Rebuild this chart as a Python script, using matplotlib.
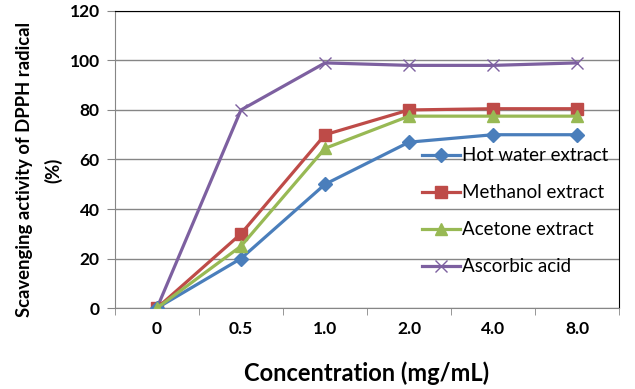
import numpy as np
import matplotlib.pyplot as plt

concentrations = ["0", "0.5", "1.0", "2.0", "4.0", "8.0"]
hot_water = [0, 20, 50, 67, 70, 70]
methanol = [0, 30, 70, 80, 80.5, 80.5]
acetone = [0, 25, 64.5, 77.5, 77.5, 77.5]
ascorbic = [0, 80, 99, 98, 98, 99]

series_names = ["Hot water extract", "Methanol extract", "Acetone extract", "Ascorbic acid"]

plt.rcParams['font.family'] = ['Lato', 'DejaVu Sans']

fig = plt.figure(figsize=(6.35, 3.89), dpi=100)
ax = fig.add_axes([0.181, 0.208, 0.794, 0.764])

x = np.arange(len(concentrations))

ax.plot(x, hot_water, color="#4A7EBB", lw=2.3, marker="D", ms=7, label=series_names[0], zorder=5)
ax.plot(x, methanol, color="#BE4B48", lw=2.3, marker="s", ms=8.5, label=series_names[1], zorder=4)
ax.plot(x, acetone, color="#98B954", lw=2.3, marker="^", ms=9, label=series_names[2], zorder=6)
ax.plot(x, ascorbic, color="#7D60A0", lw=2.3, marker="x", ms=9, mew=1.0, label=series_names[3], zorder=3)

ax.set_xlim(-0.5, len(concentrations) - 0.5)
ax.set_ylim(0, 120)
ax.set_yticks(np.arange(0, 121, 20))
ax.set_xticks(x)
ax.set_xticklabels(concentrations, fontweight="bold", fontsize=12.5)
ax.set_xticks(np.arange(-0.5, len(concentrations), 1), minor=True)
ax.tick_params(axis="x", which="major", length=0, pad=9)
ax.tick_params(axis="x", which="minor", length=5, color="#868686")
ax.tick_params(axis="y", length=6, color="#868686", pad=5)
for lab in ax.get_yticklabels():
    lab.set_fontweight("bold")
    lab.set_fontsize(12.5)

ax.grid(axis="y", color="#868686", lw=1)
ax.set_axisbelow(True)
ax.spines["left"].set_color("#868686")
ax.spines["bottom"].set_color("#868686")
ax.spines["top"].set_color("black")
ax.spines["right"].set_color("black")

ax.set_xlabel("Concentration (mg/mL)", fontweight="bold", fontsize=17, labelpad=18)
ax.set_ylabel("Scavenging activity of DPPH radical\n(%)", fontweight="bold", fontsize=13.3,
              linespacing=1.7)
ax.yaxis.set_label_coords(-0.105, 0.465)

ax.legend(loc="lower right", bbox_to_anchor=(1.0, 0.072), frameon=False, fontsize=13.5,
          handlelength=2.0, labelspacing=1.07, handletextpad=0.1, borderaxespad=0.2)

fig.savefig("out.png", dpi=100)
